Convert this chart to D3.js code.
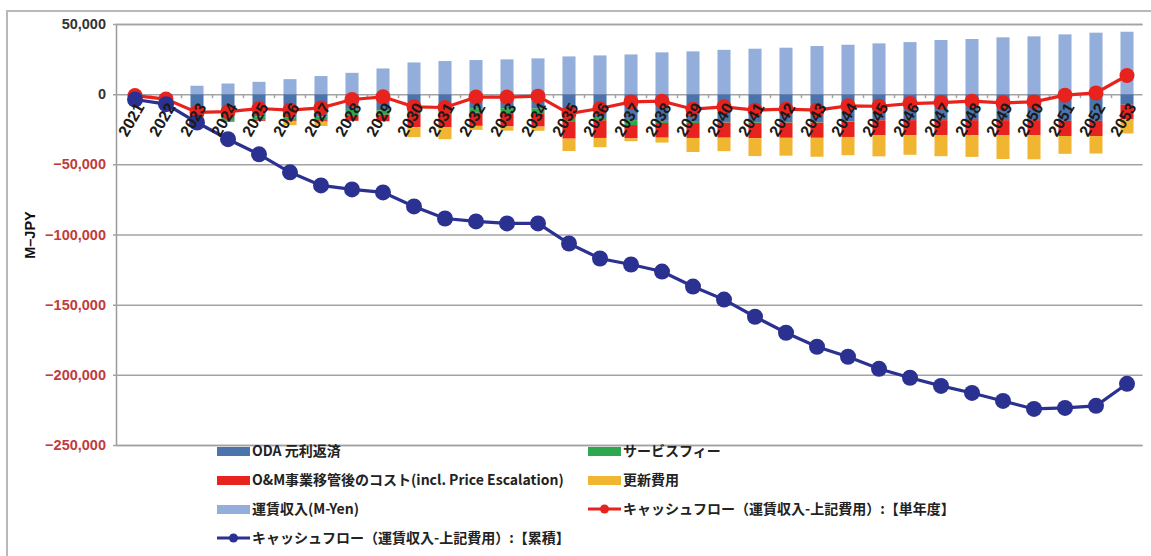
<!DOCTYPE html>
<html>
<head>
<meta charset="utf-8">
<script src="https://cdn.jsdelivr.net/npm/d3@7/dist/d3.min.js"></script>
<style>
  html, body { margin: 0; padding: 0; background: #fff; }
  svg { display: block; }
</style>
</head>
<body>
<svg id="chart" width="1151" height="556"></svg>
<script>
// Fiscal years
const years = ["2021","2022","2023","2024","2025","2026","2027","2028","2029","2030","2031",
  "2032","2033","2034","2035","2036","2037","2038","2039","2040","2041","2042",
  "2043","2044","2045","2046","2047","2048","2049","2050","2051","2052","2053"];

// Fare revenue (M-Yen)
const revenue = [0, 0, 6000, 7600, 8800, 10700, 12900, 15200, 18300, 22600, 23600,
  24300, 24800, 25500, 26900, 27600, 28300, 29800, 30500, 31600, 32400, 33100,
  34300, 35200, 36200, 37100, 38600, 39300, 40500, 41200, 42600, 43800, 44500];

// ODA principal and interest repayment
const oda = [-1000, -3500, -16500, -17000, -15800, -16800, -16000, -10500, -11500, -11400, -11500,
  -10000, -10000, -10300, -16200, -16200, -18500, -19000, -19800, -19800, -20000, -20000,
  -20000, -19500, -18600, -18500, -18500, -18500, -18500, -18500, -19000, -19000, -7500];

// Service fee
const serviceFee = [0, 0, -2500, -2000, -2500, -1800, -2500, -4500, -3200, -2100, -2100,
  -3300, -3500, -3300, -3600, -2400, -3500, -1500, -700, -500, -500, -300,
  -300, -200, 0, 0, 0, 0, 0, 0, 0, 0, 0];

// O&M cost after transfer (incl. price escalation)
const omCost = [0, 0, 0, -600, -700, -800, -1000, -4000, -4600, -10000, -10000,
  -9300, -9500, -9500, -11900, -12600, -9500, -10500, -10700, -10700, -10800, -10800,
  -10800, -10800, -10700, -10700, -10700, -10700, -10700, -10700, -10800, -10800, -10500];

// Renewal cost
const renewal = [0, 0, 0, 0, 0, -2700, -3200, 0, 0, -7100, -8500,
  -2800, -3000, -3000, -8800, -6600, -2000, -3500, -10000, -9600, -12800, -12700,
  -13500, -13000, -15000, -14000, -15000, -15500, -17000, -17200, -12700, -12500, -10000];

// Cash flow, single year
const cashYear = [-1000, -3500, -13000, -12500, -10200, -11400, -9800, -3800, -1900, -9000, -9500,
  -2100, -2100, -1400, -13800, -10200, -5500, -5000, -10700, -9000, -11400, -10700,
  -11400, -8300, -8600, -6700, -6000, -5000, -6200, -5500, -700, 900, 13300];

// Cash flow, cumulative
const cashCum = [-3800, -7100, -20200, -32100, -42900, -55700, -65000, -67900, -70000, -80000, -88600,
  -90700, -92100, -92100, -106400, -117100, -121400, -126400, -137100, -146400, -158600, -170000,
  -180000, -187100, -195700, -202100, -207900, -212900, -218600, -224300, -223600, -222100, -206400];

// Y axis ticks
const yTicks = [50000, 0, -50000, -100000, -150000, -200000, -250000];

const stackSeries = [
  { key: "oda", name: "ODA 元利返済", values: oda, color: "#4a74ab" },
  { key: "svc", name: "サービスフィー", values: serviceFee, color: "#2ea84e" },
  { key: "om", name: "O&M事業移管後のコスト(incl. Price Escalation)", values: omCost, color: "#e8221f" },
  { key: "ren", name: "更新費用", values: renewal, color: "#f0b531" },
  { key: "rev", name: "運賃収入(M-Yen)", values: revenue, color: "#93aedb" }
];
const lineYear = { name: "キャッシュフロー（運賃収入-上記費用）:【単年度】", values: cashYear, color: "#e8231e" };
const lineCum = { name: "キャッシュフロー（運賃収入-上記費用）:【累積】", values: cashCum, color: "#2b3190" };

const svg = d3.select("#chart");
const plot = { left: 116, right: 1142.5, top: 24, bottom: 445 };

const x = d3.scaleBand().domain(years).range([119.5, plot.right]).paddingInner(0.58).paddingOuter(0.29);
const xc = d3.scaleBand().domain(years).range([119.5, plot.right]);
const y = d3.scaleLinear().domain([-250000, 50000]).range([plot.bottom, plot.top]);

// chart frame
svg.append("rect").attr("x", 7).attr("y", 11).attr("width", 1160).attr("height", 600)
  .attr("fill", "none").attr("stroke", "#b9b9b9").attr("stroke-width", 2);

// gridlines + y axis
const yAxis = d3.axisLeft(y).tickValues(yTicks).tickSize(-(plot.right - plot.left)).tickPadding(10)
  .tickFormat(d3.format(","));
const gy = svg.append("g").attr("transform", `translate(${plot.left},0)`).call(yAxis);
gy.select(".domain").attr("stroke", "#9a9a9a").attr("stroke-width", 1.5);
gy.selectAll(".tick line").attr("stroke", "#a3a3a3").attr("stroke-width", 1.5).attr("x1", -3);
gy.selectAll(".tick text")
  .attr("font-family", "Liberation Sans, Arial, sans-serif")
  .attr("font-size", 14.5).attr("font-weight", "bold")
  .attr("fill", d => d < 0 ? "#c23b3b" : "#333");

// y axis title
svg.append("text").attr("transform", "translate(35,235) rotate(-90)")
  .attr("text-anchor", "middle").attr("font-family", "Liberation Sans, Arial, sans-serif")
  .attr("font-size", 14.5).attr("font-weight", "bold").attr("fill", "#111").text("M\u2013JPY");

// category ticks on the zero line
svg.append("g").selectAll("line").data(years.slice(1)).join("line")
  .attr("x1", d => xc(d)).attr("x2", d => xc(d))
  .attr("y1", y(0)).attr("y2", y(0) + 4)
  .attr("stroke", "#a3a3a3").attr("stroke-width", 1.5);

// stacked columns: negatives stack downward, revenue upward
const gBars = svg.append("g");
years.forEach((yr, i) => {
  let neg = 0, pos = 0;
  stackSeries.forEach(s => {
    const v = s.values[i];
    if (v === 0) return;
    let y0, y1;
    if (v < 0) { y0 = neg; y1 = neg + v; neg = y1; }
    else { y0 = pos; y1 = pos + v; pos = y1; }
    gBars.append("rect")
      .attr("x", x(yr)).attr("width", x.bandwidth())
      .attr("y", y(Math.max(y0, y1))).attr("height", Math.abs(y(y0) - y(y1)))
      .attr("fill", s.color);
  });
});

// lines
function drawLine(series, r) {
  const line = d3.line().x((d, i) => xc(years[i]) + xc.bandwidth() / 2).y(d => y(d));
  const g = svg.append("g");
  g.append("path").datum(series.values).attr("d", line)
    .attr("fill", "none").attr("stroke", series.color).attr("stroke-width", 3.2);
  g.selectAll("circle").data(series.values).join("circle")
    .attr("cx", (d, i) => xc(years[i]) + xc.bandwidth() / 2).attr("cy", d => y(d))
    .attr("r", r).attr("fill", series.color);
}
drawLine(lineYear, 7.5);
drawLine(lineCum, 8);

// x labels, drawn over the marks
svg.append("g").selectAll("text").data(years).join("text")
  .attr("transform", d => `translate(${xc(d) + xc.bandwidth() / 2 + 5},${y(0) + 10}) rotate(-60)`)
  .attr("text-anchor", "end").attr("dy", "0.35em")
  .attr("font-family", "Liberation Sans, Arial, sans-serif")
  .attr("font-size", 16).attr("font-weight", "bold").attr("fill", "#1a1a1a")
  .text(d => d);

// legend
const legendItems = [
  { s: stackSeries[0], type: "rect", x: 217, y: 451 },
  { s: stackSeries[1], type: "rect", x: 588, y: 451 },
  { s: stackSeries[2], type: "rect", x: 217, y: 480 },
  { s: stackSeries[3], type: "rect", x: 588, y: 480 },
  { s: stackSeries[4], type: "rect", x: 217, y: 509 },
  { s: lineYear, type: "line", x: 588, y: 509 },
  { s: lineCum, type: "line", x: 217, y: 538 }
];
const gl = svg.append("g");
legendItems.forEach(it => {
  const g = gl.append("g").attr("transform", `translate(${it.x},${it.y})`);
  if (it.type === "rect") {
    g.append("rect").attr("x", 0).attr("y", -4).attr("width", 33).attr("height", 9).attr("fill", it.s.color);
  } else {
    g.append("line").attr("x1", 0).attr("x2", 33).attr("y1", 0).attr("y2", 0)
      .attr("stroke", it.s.color).attr("stroke-width", 3);
    g.append("circle").attr("cx", 16.5).attr("cy", 0).attr("r", 4.5).attr("fill", it.s.color);
  }
  g.append("text").attr("x", 35).attr("y", 0).attr("dy", "0.35em")
    .attr("font-family", "Noto Sans CJK JP, sans-serif").attr("font-size", 14)
    .attr("font-weight", "bold").attr("fill", "#222").text(it.s.name);
});
</script>
</body>
</html>
